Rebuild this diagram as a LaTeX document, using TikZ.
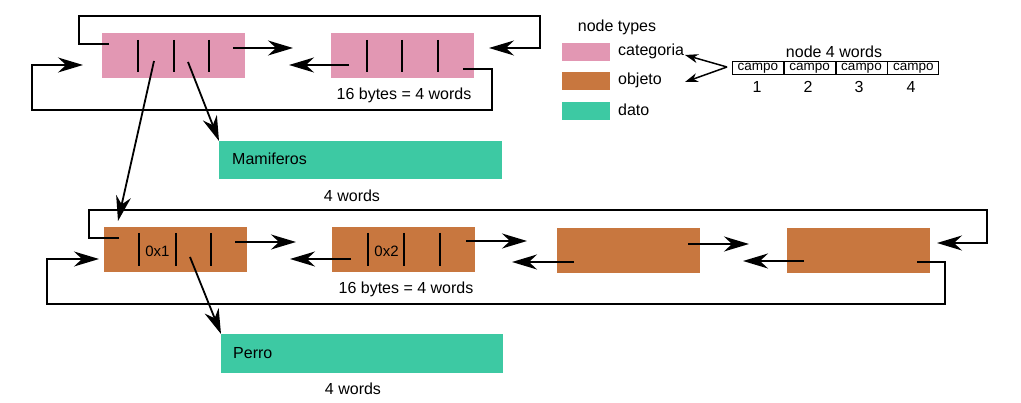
\documentclass[tikz,border=0pt]{standalone}
\usepackage{fontspec}
\setmainfont{Liberation Sans}
\usetikzlibrary{arrows.meta}
\definecolor{cat}{HTML}{E297B3}
\definecolor{obj}{HTML}{C8773F}
\definecolor{dat}{HTML}{3DC9A3}
\begin{document}
\begin{tikzpicture}[x=1pt,y=-1pt,
 box/.style={anchor=north west, minimum width=143pt, minimum height=45pt, inner sep=0, outer sep=0},
 datbox/.style={anchor=north west, fill=dat, minimum width=283pt, minimum height=38pt, inner sep=0, outer sep=0},
 lbl/.style={font=\fontsize{16}{19}\selectfont, inner sep=0},
 big/.style={-{Stealth[length=25pt,width=15pt,inset=8pt]}},
 ptr/.style={line width=1.8pt, big},
 wire/.style={line width=1.5pt},
 sepl/.style={line width=1.8pt},
 swatch/.style={anchor=north west, minimum width=48pt, minimum height=18pt, inner sep=0},
 cell/.style={draw, line width=0.8pt, minimum width=51pt, minimum height=13pt, inner sep=0, font=\fontsize{13.5}{14}\selectfont}]
\useasboundingbox (0,0) rectangle (1021,403);
\fill[white] (0,0) rectangle (1021,403);

% ---------- top row (categoria)
\node[box, fill=cat] (c1) at (102,33) {};
\node[box, fill=cat] (c2) at (331,33) {};
\foreach \x in {138,174,209,367,402,438} \draw[sepl] (\x,40) -- (\x,72);
\node[lbl] (t1) at (404,95) {16 bytes = 4 words};

\coordinate (c1a) at (233,48);  \coordinate (c1b) at (293,48);
\coordinate (c2a) at (349,65);  \coordinate (c2b) at (289,65);
\draw[ptr] (c1a) -- (c1b);
\draw[ptr] (c2a) -- (c2b);

\coordinate (tl1) at (109,44);  \coordinate (tl2) at (489,48);
\draw[wire, big] (tl1) -- (79,44) -- (79,16) -- (540,16) -- (540,48) -- (tl2);
\coordinate (bl1) at (463,69);  \coordinate (bl2) at (83,65);
\draw[wire, big] (bl1) -- (492,69) -- (492,110) -- (32,110) -- (32,65) -- (bl2);

% ---------- Mamiferos
\node[datbox] (m) at (219,141) {};
\node[lbl, anchor=west] (mt) at (232,159) {Mamiferos};
\node[lbl] (mw) at (352,196) {4 words};

\coordinate (c1d) at (154,61);  \coordinate (c1m) at (188,62);
\coordinate (o1t) at (118,221);
\draw[ptr] (c1d) -- (o1t);
\draw[ptr] (c1m) -- (m.north west);

% ---------- bottom row (objeto)
\node[box, fill=obj] (o1) at (104,227) {};
\node[box, fill=obj] (o2) at (332,227) {};
\node[box, fill=obj] (o3) at (557,228) {};
\node[box, fill=obj] (o4) at (787,228) {};
\foreach \x in {139,176,211,368,404,440} \draw[sepl] (\x,233) -- (\x,266);
\node[lbl, font=\fontsize{15}{18}\selectfont] (x1) at (157.5,251) {0x1};
\node[lbl, font=\fontsize{15}{18}\selectfont] (x2) at (386.5,251) {0x2};
\node[lbl] (t2) at (406,289) {16 bytes = 4 words};

\coordinate (a1) at (235,242); \coordinate (a2) at (296,242);
\coordinate (b1) at (351,259); \coordinate (b2) at (290,259);
\coordinate (b3) at (466,241); \coordinate (b4) at (527,241);
\coordinate (d1) at (574,262); \coordinate (d2) at (512,262);
\coordinate (d3) at (688,244); \coordinate (d4) at (749,244);
\coordinate (e1) at (804,261); \coordinate (e2) at (743,261);
\draw[ptr] (a1) -- (a2);
\draw[ptr] (b1) -- (b2);
\draw[ptr] (b3) -- (b4);
\draw[ptr] (d1) -- (d2);
\draw[ptr] (d3) -- (d4);
\draw[ptr] (e1) -- (e2);

\coordinate (tt1) at (119,238); \coordinate (tt2) at (937,243);
\draw[wire, big] (tt1) -- (89,238) -- (89,210) -- (987,210) -- (987,243) -- (tt2);
\coordinate (bb1) at (917,262); \coordinate (bb2) at (99,259);
\draw[wire, big] (bb1) -- (945,262) -- (945,304) -- (47,304) -- (47,259) -- (bb2);

% ---------- Perro
\node[datbox, minimum width=282pt, minimum height=39pt] (p) at (221,334) {};
\node[lbl, anchor=west] (pt) at (233,353) {Perro};
\node[lbl] (pw) at (353,389) {4 words};
\coordinate (o1p) at (190,257);
\draw[ptr] (o1p) -- (p.north west);

% ---------- legend
\node[lbl] (nt) at (617,27) {node types};
\node[swatch, fill=cat] (s1) at (562,43) {};
\node[swatch, fill=obj] (s2) at (562,72) {};
\node[swatch, fill=dat] (s3) at (562,102) {};
\node[lbl, anchor=west] (l1) at (618,51) {categoria};
\node[lbl, anchor=west] (l2) at (618,80) {objeto};
\node[lbl, anchor=west] (l3) at (618,110) {dato};

\node[lbl] (n4) at (834,52) {node 4 words};
\node[cell, anchor=north west] (k1) at (732,61) {campo};
\node[cell, anchor=west] (k2) at (k1.east) {campo};
\node[cell, anchor=west] (k3) at (k2.east) {campo};
\node[cell, anchor=west] (k4) at (k3.east) {campo};
\node[lbl] at (757,87) {1};
\node[lbl] at (808,87) {2};
\node[lbl] at (859,87) {3};
\node[lbl] at (911,87) {4};

\coordinate (lg) at (727,67);
\coordinate (lg1) at (685,55);
\coordinate (lg2) at (685,82);
\draw[line width=1.5pt, -{Stealth[length=13pt,width=9pt,inset=4pt]}] (lg) -- (lg1);
\draw[line width=1.5pt, -{Stealth[length=13pt,width=9pt,inset=4pt]}] (lg) -- (lg2);
\end{tikzpicture}
\end{document}
